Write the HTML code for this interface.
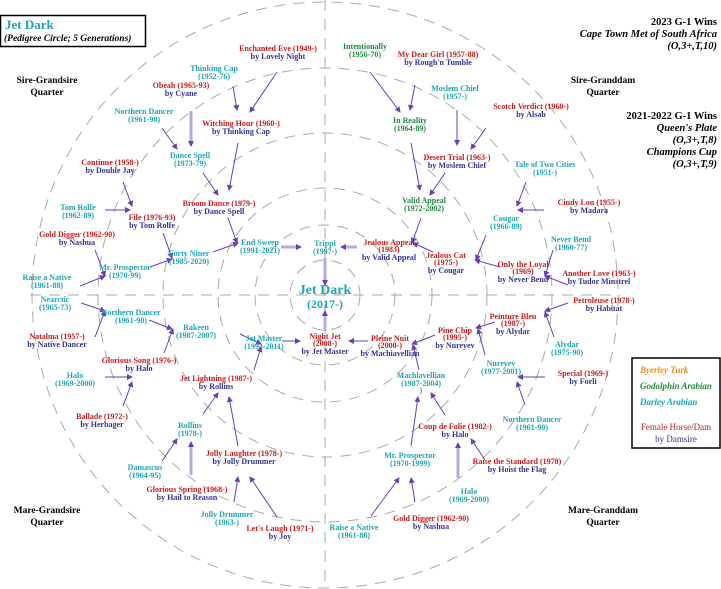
<!DOCTYPE html>
<html><head><meta charset="utf-8"><style>
html,body{margin:0;padding:0;background:#fff;}
svg{display:block;}
text{font-family:"Liberation Serif",serif;font-weight:bold;font-size:8px;text-anchor:middle;}
.r{fill:#cc1a1a}.b{fill:#33339a}.c{fill:#1ba5b8}.g{fill:#1f8a3a}.k{fill:#000;font-size:9.5px}
.a{stroke:#6a3fb5;stroke-width:1;fill:none;marker-end:url(#ah)}
.l{stroke:#b9a9d9;stroke-width:3;fill:none}
.h{font-size:10.5px;text-anchor:end;fill:#000}
.i{font-style:italic}
</style></head><body>
<svg width="721" height="589" viewBox="0 0 721 589" xmlns="http://www.w3.org/2000/svg">
<defs><marker id="ah" markerWidth="6" markerHeight="6" refX="5" refY="3" orient="auto" markerUnits="userSpaceOnUse"><path d="M0,0 L6,3 L0,6 z" fill="#6a3fb5"/></marker></defs>
<g stroke="#aaa" stroke-width="1" fill="none" stroke-dasharray="11,8">
<circle cx="325" cy="295" r="35"/><circle cx="325" cy="295" r="70"/><circle cx="325" cy="295" r="107"/>
<circle cx="325" cy="295" r="162"/><circle cx="325" cy="295" r="227"/><circle cx="325" cy="295" r="293"/>
<line x1="325" y1="0" x2="325" y2="589"/><line x1="30" y1="295" x2="620" y2="295"/>
</g>
<rect x="0.5" y="15.5" width="145" height="31" fill="#fff" stroke="#000" stroke-width="1.5"/>
<text x="5" y="29" class="c" style="text-anchor:start;font-size:13px">Jet Dark</text>
<text x="4" y="41" class="i" style="text-anchor:start;font-size:9.5px">(Pedigree Circle; 5 Generations)</text>
<text x="47" y="83" class="k">Sire-Grandsire</text><text x="47" y="95" class="k">Quarter</text>
<text x="603" y="83" class="k">Sire-Granddam</text><text x="603" y="95" class="k">Quarter</text>
<text x="47" y="513" class="k">Mare-Grandsire</text><text x="47" y="525" class="k">Quarter</text>
<text x="603" y="513" class="k">Mare-Granddam</text><text x="603" y="525" class="k">Quarter</text>
<text x="717" y="25" class="h">2023 G-1 Wins</text>
<text x="717" y="37" class="h i">Cape Town Met of South Africa</text>
<text x="717" y="49" class="h i">(O,3+,T,10)</text>
<text x="717" y="119" class="h">2021-2022 G-1 Wins</text>
<text x="717" y="131" class="h i">Queen's Plate</text>
<text x="717" y="143" class="h i">(O,3+,T,8)</text>
<text x="717" y="155" class="h i">Champions Cup</text>
<text x="717" y="167" class="h i">(O,3+,T,9)</text>
<rect x="632" y="358" width="88" height="90" fill="#fff" stroke="#000" stroke-width="1.5"/>
<text x="640" y="373" class="i" style="text-anchor:start;fill:#f08a1c;font-size:9px">Byerley Turk</text>
<text x="640" y="389" class="i g" style="text-anchor:start;font-size:9px">Godolphin Arabian</text>
<text x="640" y="405" class="i c" style="text-anchor:start;font-size:9px">Darley Arabian</text>
<text x="676" y="430" class="r" style="font-weight:normal;font-size:9px">Female Horse/Dam</text>
<text x="676" y="442" class="b" style="font-weight:normal;font-size:9px">by Damsire</text>
<text x="325" y="294" class="c" style="font-size:14px">Jet Dark</text>
<text x="325" y="308" class="c" style="font-size:12px">(2017-)</text>
<line class="l" x1="281" y1="247" x2="296" y2="247"/><line class="l" x1="357" y1="247" x2="345" y2="247"/>
<line class="l" x1="325" y1="258" x2="325" y2="282"/><line class="l" x1="325" y1="331" x2="325" y2="314"/>
<line class="l" x1="191" y1="111" x2="191" y2="144"/><line class="l" x1="191" y1="475" x2="191" y2="444"/>
<line class="l" x1="458" y1="478" x2="458" y2="445"/>
<g>
<line class="a" x1="296" y1="247" x2="301" y2="247"/><line class="a" x1="345" y1="247" x2="341" y2="247"/>
<line class="a" x1="325" y1="280" x2="325" y2="285"/><line class="a" x1="325" y1="316" x2="325" y2="311"/>
<line class="a" x1="191" y1="142" x2="191" y2="146"/><line class="a" x1="191" y1="446" x2="191" y2="442"/>
<line class="a" x1="458" y1="447" x2="458" y2="443"/>
<line class="a" x1="277" y1="72" x2="250" y2="112"/><line class="a" x1="233" y1="86" x2="237" y2="110"/>
<line class="a" x1="162" y1="128" x2="177" y2="149"/><line class="a" x1="238" y1="143" x2="229" y2="190"/>
<line class="a" x1="203" y1="173" x2="218" y2="195"/><line class="a" x1="228" y1="218" x2="237" y2="243"/>
<line class="a" x1="213" y1="252" x2="238" y2="243"/><line class="a" x1="123" y1="182" x2="132" y2="206"/>
<line class="a" x1="105" y1="210" x2="130" y2="210"/><line class="a" x1="163" y1="233" x2="172" y2="258"/>
<line class="a" x1="150" y1="267" x2="172" y2="259"/><line class="a" x1="95" y1="250" x2="105" y2="276"/>
<line class="a" x1="80" y1="286" x2="105" y2="276"/>
<line class="a" x1="370" y1="72" x2="400" y2="112"/><line class="a" x1="415" y1="85" x2="410" y2="110"/>
<line class="a" x1="457" y1="110" x2="457" y2="145"/><line class="a" x1="486" y1="128" x2="471" y2="149"/>
<line class="a" x1="411" y1="143" x2="420" y2="190"/><line class="a" x1="445" y1="173" x2="430" y2="195"/>
<line class="a" x1="421" y1="218" x2="412" y2="243"/><line class="a" x1="433" y1="252" x2="413" y2="243"/>
<line class="a" x1="486" y1="235" x2="476" y2="260"/><line class="a" x1="500" y1="267" x2="475" y2="260"/>
<line class="a" x1="526" y1="182" x2="517" y2="206"/><line class="a" x1="544" y1="210" x2="518" y2="210"/>
<line class="a" x1="553" y1="250" x2="545" y2="276"/><line class="a" x1="568" y1="285" x2="545" y2="276"/>
<line class="a" x1="282" y1="341" x2="300" y2="341"/><line class="a" x1="240" y1="334" x2="261" y2="344"/>
<line class="a" x1="254" y1="370" x2="261" y2="347"/><line class="a" x1="149" y1="320" x2="172" y2="329"/>
<line class="a" x1="164" y1="353" x2="173" y2="329"/><line class="a" x1="81" y1="303" x2="105" y2="311"/>
<line class="a" x1="95" y1="337" x2="105" y2="311"/><line class="a" x1="105" y1="377" x2="132" y2="377"/>
<line class="a" x1="123" y1="406" x2="132" y2="382"/><line class="a" x1="203" y1="414" x2="218" y2="393"/>
<line class="a" x1="238" y1="446" x2="229" y2="397"/><line class="a" x1="162" y1="461" x2="177" y2="439"/>
<line class="a" x1="234" y1="502" x2="238" y2="477"/><line class="a" x1="277" y1="517" x2="250" y2="477"/>
<line class="a" x1="368" y1="341" x2="349" y2="341"/><line class="a" x1="435" y1="335" x2="412" y2="344"/>
<line class="a" x1="419" y1="370" x2="413" y2="345"/><line class="a" x1="495" y1="322" x2="476" y2="328"/>
<line class="a" x1="485" y1="355" x2="478" y2="329"/><line class="a" x1="568" y1="303" x2="545" y2="311"/>
<line class="a" x1="554" y1="337" x2="545" y2="312"/><line class="a" x1="545" y1="377" x2="518" y2="377"/>
<line class="a" x1="525" y1="405" x2="517" y2="382"/><line class="a" x1="411" y1="446" x2="418" y2="397"/>
<line class="a" x1="445" y1="415" x2="431" y2="393"/><line class="a" x1="485" y1="460" x2="471" y2="439"/>
<line class="a" x1="371" y1="516" x2="399" y2="478"/><line class="a" x1="415" y1="502" x2="411" y2="478"/>
</g>
<text x="278" y="51" class="r">Enchanted Eve (1949-)</text><text x="278" y="59" class="b">by Lovely Night</text>
<text x="214" y="71" class="c">Thinking Cap</text><text x="214" y="79" class="c">(1952-76)</text>
<text x="181" y="88" class="r">Obeah (1965-93)</text><text x="181" y="96" class="b">by Cyane</text>
<text x="144" y="114" class="c">Northern Dancer</text><text x="144" y="122" class="c">(1961-90)</text>
<text x="241" y="126" class="r">Witching Hour (1960-)</text><text x="241" y="134" class="b">by Thinking Cap</text>
<text x="190" y="158" class="c">Dance Spell</text><text x="190" y="166" class="c">(1973-79)</text>
<text x="110" y="165" class="r">Continue (1958-)</text><text x="110" y="173" class="b">by Double Jay</text>
<text x="219" y="206" class="r">Broom Dance (1979-)</text><text x="219" y="214" class="b">by Dance Spell</text>
<text x="78" y="210" class="c">Tom Rolfe</text><text x="78" y="218" class="c">(1962-89)</text>
<text x="152" y="220" class="r">File (1976-93)</text><text x="152" y="228" class="b">by Tom Rolfe</text>
<text x="77" y="237" class="r">Gold Digger (1962-90)</text><text x="77" y="245" class="b">by Nashua</text>
<text x="260" y="245" class="c">End Sweep</text><text x="260" y="253" class="c">(1991-2021)</text>
<text x="189" y="256" class="c">Forty Niner</text><text x="189" y="264" class="c">(1985-2020)</text>
<text x="125" y="270" class="c">Mr. Prospector</text><text x="125" y="278" class="c">(1970-99)</text>
<text x="47" y="280" class="c">Raise a Native</text><text x="47" y="288" class="c">(1961-88)</text>
<text x="325" y="246" class="c">Trippi</text><text x="325" y="254" class="c">(1997-)</text>
<text x="55" y="302" class="c">Nearctic</text><text x="55" y="310" class="c">(1965-73)</text>
<text x="131" y="315" class="c">Northern Dancer</text><text x="131" y="323" class="c">(1961-90)</text>
<text x="57" y="339" class="r">Natalma (1957-)</text><text x="57" y="347" class="b">by Native Dancer</text>
<text x="196" y="330" class="c">Rakeen</text><text x="196" y="338" class="c">(1987-2007)</text>
<text x="264" y="341" class="c">Jet Master</text><text x="264" y="349" class="c">(1994-2011)</text>
<text x="325" y="339" class="r">Night Jet</text><text x="325" y="346" class="r">(2008-)</text><text x="325" y="354" class="b">by Jet Master</text>
<text x="139" y="363" class="r">Glorious Song (1976-)</text><text x="139" y="371" class="b">by Halo</text>
<text x="75" y="378" class="c">Halo</text><text x="75" y="386" class="c">(1969-2000)</text>
<text x="216" y="381" class="r">Jet Lightning (1987-)</text><text x="216" y="389" class="b">by Rollins</text>
<text x="102" y="419" class="r">Ballade (1972-)</text><text x="102" y="427" class="b">by Herbager</text>
<text x="190" y="428" class="c">Rollins</text><text x="190" y="436" class="c">(1978-)</text>
<text x="244" y="456" class="r">Jolly Laughter (1978-)</text><text x="244" y="464" class="b">by Jolly Drummer</text>
<text x="145" y="470" class="c">Damascus</text><text x="145" y="478" class="c">(1964-95)</text>
<text x="187" y="492" class="r">Glorious Spring (1968-)</text><text x="187" y="500" class="b">by Hail to Reason</text>
<text x="227" y="517" class="c">Jolly Drummer</text><text x="227" y="525" class="c">(1963-)</text>
<text x="280" y="531" class="r">Let's Laugh (1971-)</text><text x="280" y="539" class="b">by Joy</text>
<text x="365" y="49" class="g">Intentionally</text><text x="365" y="57" class="g">(1956-70)</text>
<text x="438" y="57" class="r">My Dear Girl (1957-88)</text><text x="438" y="65" class="b">by Rough'n Tumble</text>
<text x="455" y="91" class="c">Moslem Chief</text><text x="455" y="99" class="c">(1957-)</text>
<text x="410" y="123" class="g">In Reality</text><text x="410" y="131" class="g">(1964-89)</text>
<text x="531" y="109" class="r">Scotch Verdict (1960-)</text><text x="531" y="117" class="b">by Alsab</text>
<text x="457" y="160" class="r">Desert Trial (1963-)</text><text x="457" y="168" class="b">by Moslem Chief</text>
<text x="545" y="167" class="c">Tale of Two Cities</text><text x="545" y="175" class="c">(1951-)</text>
<text x="424" y="203" class="g">Valid Appeal</text><text x="424" y="211" class="g">(1972-2002)</text>
<text x="589" y="205" class="r">Cindy Lou (1955-)</text><text x="589" y="213" class="b">by Madara</text>
<text x="506" y="221" class="c">Cougar</text><text x="506" y="229" class="c">(1966-89)</text>
<text x="571" y="242" class="c">Never Bend</text><text x="571" y="250" class="c">(1960-77)</text>
<text x="389" y="245" class="r">Jealous Appeal</text><text x="389" y="252" class="r">(1983)</text><text x="389" y="260" class="b">by Valid Appeal</text>
<text x="446" y="258" class="r">Jealous Cat</text><text x="446" y="265" class="r">(1975-)</text><text x="446" y="273" class="b">by Cougar</text>
<text x="523" y="267" class="r">Only the Loyal</text><text x="523" y="274" class="r">(1969)</text><text x="523" y="282" class="b">by Never Bend</text>
<text x="599" y="276" class="r">Another Love (1963-)</text><text x="599" y="284" class="b">by Tudor Minstrel</text>
<text x="604" y="303" class="r">Petroleuse (1978-)</text><text x="604" y="311" class="b">by Habitat</text>
<text x="513" y="319" class="r">Peinture Bleu</text><text x="513" y="326" class="r">(1987-)</text><text x="513" y="334" class="b">by Alydar</text>
<text x="455" y="333" class="r">Pine Chip</text><text x="455" y="340" class="r">(1995-)</text><text x="455" y="348" class="b">by Nureyev</text>
<text x="390" y="341" class="r">Pleine Nuit</text><text x="390" y="348" class="r">(2000-)</text><text x="390" y="356" class="b">by Machiavellian</text>
<text x="567" y="347" class="c">Alydar</text><text x="567" y="355" class="c">(1975-90)</text>
<text x="501" y="366" class="c">Nureyev</text><text x="501" y="374" class="c">(1977-2001)</text>
<text x="583" y="376" class="r">Special (1969-)</text><text x="583" y="384" class="b">by Forli</text>
<text x="421" y="378" class="c">Machiavellian</text><text x="421" y="386" class="c">(1987-2004)</text><text x="421" y="393" class="c">)</text>
<text x="532" y="422" class="c">Northern Dancer</text><text x="532" y="430" class="c">(1961-90)</text>
<text x="455" y="429" class="r">Coup de Folie (1982-)</text><text x="455" y="437" class="b">by Halo</text>
<text x="410" y="458" class="c">Mr. Prospector</text><text x="410" y="466" class="c">(1970-1999)</text>
<text x="517" y="464" class="r">Raise the Standard (1978)</text><text x="517" y="472" class="b">by Hoist the Flag</text>
<text x="469" y="494" class="c">Halo</text><text x="469" y="502" class="c">(1969-2000)</text>
<text x="431" y="521" class="r">Gold Digger (1962-90)</text><text x="431" y="529" class="b">by Nashua</text>
<text x="354" y="530" class="c">Raise a Native</text><text x="354" y="538" class="c">(1961-88)</text>
</svg>
</body></html>
